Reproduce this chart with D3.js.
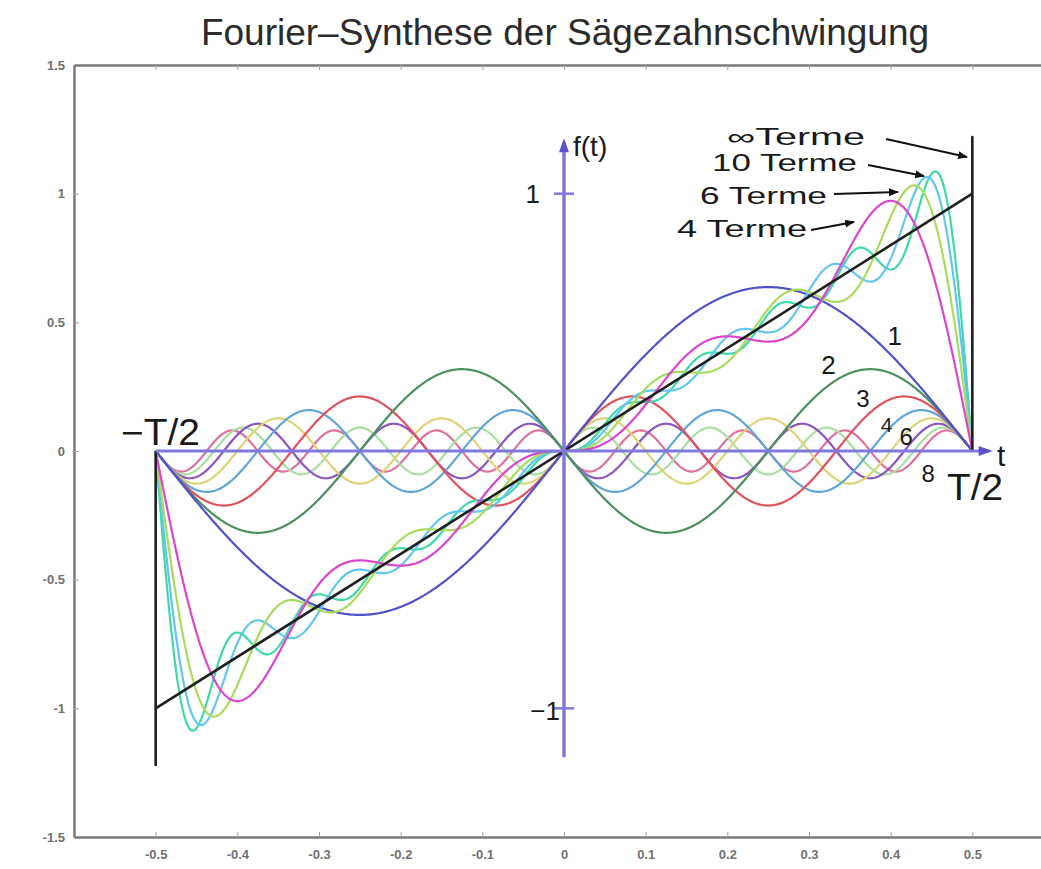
<!DOCTYPE html>
<html>
<head>
<meta charset="utf-8">
<script src="https://cdn.jsdelivr.net/npm/d3@7"></script>
<style>
body { margin: 0; background: #fff; }
svg { display: block; font-family: "Liberation Sans", Arial, sans-serif; }
</style>
</head>
<body>
<script>
var harmonicNumbers = [1, 2, 3, 4, 5, 6, 7, 8, 9, 10];
var harmonicAmplitudes = [0.637, -0.318, 0.212, -0.159, 0.127, -0.106, 0.091, -0.080, 0.071, -0.064];
var drawnHarmonics = [1, 2, 3, 4, 5, 6, 7, 8];
var harmonicColors = ["#5151c9", "#4c8f5e", "#e0525e", "#5ea6d8", "#ddd476", "#8a55bf", "#a9dfa0", "#e06f9c"];
var labelledHarmonics = ["1", "2", "3", "4", "6", "8"];

// partial sums (number of terms) and their colours
var partialTerms = [10, 8, 6, 4];
var partialColors = ["#3fd9a9", "#62c6ef", "#a9dc5c", "#dc45cf"];

// the ideal sawtooth ("∞ Terme")
var sawT = [-0.5, 0.5];
var sawF = [-1, 1];
var jumpTop = 1.22;

var xTicks = [-0.5, -0.4, -0.3, -0.2, -0.1, 0, 0.1, 0.2, 0.3, 0.4, 0.5];
var xTickLabels = ["-0.5", "-0.4", "-0.3", "-0.2", "-0.1", "0", "0.1", "0.2", "0.3", "0.4", "0.5"];
var yTicks = [-1.5, -1, -0.5, 0, 0.5, 1, 1.5];
var yTickLabels = ["-1.5", "-1", "-0.5", "0", "0.5", "1", "1.5"];

var termLabels = ["\u221ETerme", "10 Terme", "6 Terme", "4 Terme"];

var width = 1041, height = 869;

var svg = d3.select("body").append("svg")
    .attr("width", width)
    .attr("height", height);

var x = d3.scaleLinear().domain([-0.6, 0.6]).range([74, 1054]);
var y = d3.scaleLinear().domain([-1.5, 1.5]).range([837, 65]);

// title
svg.append("text")
    .attr("x", 565)
    .attr("y", 45)
    .attr("text-anchor", "middle")
    .attr("font-size", 37)
    .attr("fill", "#2b2b2b")
    .text("Fourier\u2013Synthese der S\u00e4gezahnschwingung");

// frame axes
var gLeft = svg.append("g")
    .attr("transform", "translate(" + x(-0.6) + ",0)")
    .call(d3.axisLeft(y).tickValues(yTicks)
        .tickFormat(function(d, i) { return yTickLabels[i]; })
        .tickSizeInner(-5).tickSizeOuter(0).tickPadding(9));
var gBottom = svg.append("g")
    .attr("transform", "translate(0," + y(-1.5) + ")")
    .call(d3.axisBottom(x).tickValues(xTicks)
        .tickFormat(function(d, i) { return xTickLabels[i]; })
        .tickSizeInner(-5).tickSizeOuter(0).tickPadding(13));
var gTop = svg.append("g")
    .attr("transform", "translate(0," + y(1.5) + ")")
    .call(d3.axisTop(x).tickValues(xTicks).tickFormat("")
        .tickSizeInner(-5).tickSizeOuter(0));

[gLeft, gBottom, gTop].forEach(function(g) {
    g.select(".domain").attr("stroke", "#7a7a7a").attr("stroke-width", 2.5);
    g.selectAll(".tick line").attr("stroke", "#a0a0a0");
    g.selectAll(".tick text").attr("fill", "#707070").attr("font-size", 13).attr("font-weight", "bold");
});

// curves
var tSamples = d3.range(0, 1001).map(function(i) { return -0.5 + i / 1000; });

function harmonicValue(n, t) {
    return harmonicAmplitudes[n - 1] * Math.sin(2 * Math.PI * harmonicNumbers[n - 1] * t);
}

var line = d3.line()
    .x(function(d) { return x(d[0]); })
    .y(function(d) { return y(d[1]); });

var plot = svg.append("g").attr("fill", "none").attr("stroke-linejoin", "round");

drawnHarmonics.slice().reverse().forEach(function(n) {
    plot.append("path")
        .datum(tSamples.map(function(t) { return [t, harmonicValue(n, t)]; }))
        .attr("d", line)
        .attr("stroke", harmonicColors[n - 1])
        .attr("stroke-width", 2.2);
});

partialTerms.forEach(function(N, i) {
    plot.append("path")
        .datum(tSamples.map(function(t) {
            var s = 0;
            for (var k = 1; k <= N; k++) s += harmonicValue(k, t);
            return [t, s];
        }))
        .attr("d", line)
        .attr("stroke", partialColors[i])
        .attr("stroke-width", 2.2);
});

// sawtooth with its jumps
plot.append("path")
    .datum([[sawT[0], 0], [sawT[0], -jumpTop], [sawT[0], sawF[0]], [sawT[1], sawF[1]], [sawT[1], jumpTop], [sawT[1], 0]])
    .attr("d", line)
    .attr("stroke", "#1f1f1f")
    .attr("stroke-width", 2.6);

// purple coordinate axes
var axisColor = "#8079da";
svg.append("line")
    .attr("x1", x(-0.5)).attr("x2", x(0.52))
    .attr("y1", y(0)).attr("y2", y(0))
    .attr("stroke", axisColor).attr("stroke-width", 3);
svg.append("path")
    .attr("d", "M" + (x(0.52) + 4) + "," + y(0) + "l-14,-5l0,10z")
    .attr("fill", "#5a52d0");
svg.append("line")
    .attr("x1", x(0)).attr("x2", x(0))
    .attr("y1", y(-1.19)).attr("y2", y(1.2))
    .attr("stroke", axisColor).attr("stroke-width", 3.5);
svg.append("path")
    .attr("d", "M" + x(0) + "," + (y(1.2) - 4) + "l-5,14l10,0z")
    .attr("fill", "#5a52d0");
[1, -1].forEach(function(v) {
    svg.append("line")
        .attr("x1", x(0) - 10).attr("x2", x(0) + 10)
        .attr("y1", y(v)).attr("y2", y(v))
        .attr("stroke", axisColor).attr("stroke-width", 2.5);
});

var big = svg.append("g").attr("fill", "#1a1a1a");
big.append("text").attr("x", 540).attr("y", y(1) + 9).attr("text-anchor", "end")
    .attr("font-size", 26).text("1");
big.append("text").attr("x", 560).attr("y", y(-1) + 12).attr("text-anchor", "end")
    .attr("font-size", 26).text("\u22121");
big.append("text").attr("x", 573).attr("y", 156).attr("font-size", 28).text("f(t)");
big.append("text").attr("x", 997).attr("y", 466).attr("font-size", 30).text("t");
big.append("text").attr("x", 121).attr("y", 445).attr("font-size", 36)
    .attr("textLength", 79).attr("lengthAdjust", "spacingAndGlyphs").text("\u2212T/2");
big.append("text").attr("x", 947).attr("y", 500).attr("font-size", 36)
    .attr("textLength", 56).attr("lengthAdjust", "spacingAndGlyphs").text("T/2");

// harmonic numbers next to their curves
var hlPos = [[0.405, 0.41, 26], [0.324, 0.3, 26], [0.366, 0.172, 24], [0.395, 0.074, 21], [0.419, 0.024, 24], [0.446, -0.12, 24]];
labelledHarmonics.forEach(function(s, i) {
    big.append("text")
        .attr("x", x(hlPos[i][0])).attr("y", y(hlPos[i][1]))
        .attr("text-anchor", "middle")
        .attr("font-size", hlPos[i][2])
        .text(s);
});

// "Terme" annotations with arrows
svg.append("defs").append("marker")
    .attr("id", "head")
    .attr("viewBox", "0 0 10 10")
    .attr("refX", 9).attr("refY", 5)
    .attr("markerWidth", 5).attr("markerHeight", 5)
    .attr("orient", "auto")
    .append("path").attr("d", "M0,1L10,5L0,9z").attr("fill", "#111");

var termText = [[865, 145, 138], [857, 171, 145], [827, 204, 127], [807, 237, 130]];
var termArrow = [[886, 139, 967, 157], [868, 165, 924, 176], [834, 194, 898, 192], [811, 230, 854, 222]];
termLabels.forEach(function(s, i) {
    big.append("text")
        .attr("x", termText[i][0]).attr("y", termText[i][1])
        .attr("text-anchor", "end")
        .attr("font-size", 23)
        .attr("textLength", termText[i][2]).attr("lengthAdjust", "spacingAndGlyphs")
        .text(s);
    svg.append("line")
        .attr("x1", termArrow[i][0]).attr("y1", termArrow[i][1])
        .attr("x2", termArrow[i][2]).attr("y2", termArrow[i][3])
        .attr("stroke", "#111").attr("stroke-width", 2)
        .attr("marker-end", "url(#head)");
});
</script>
</body>
</html>
